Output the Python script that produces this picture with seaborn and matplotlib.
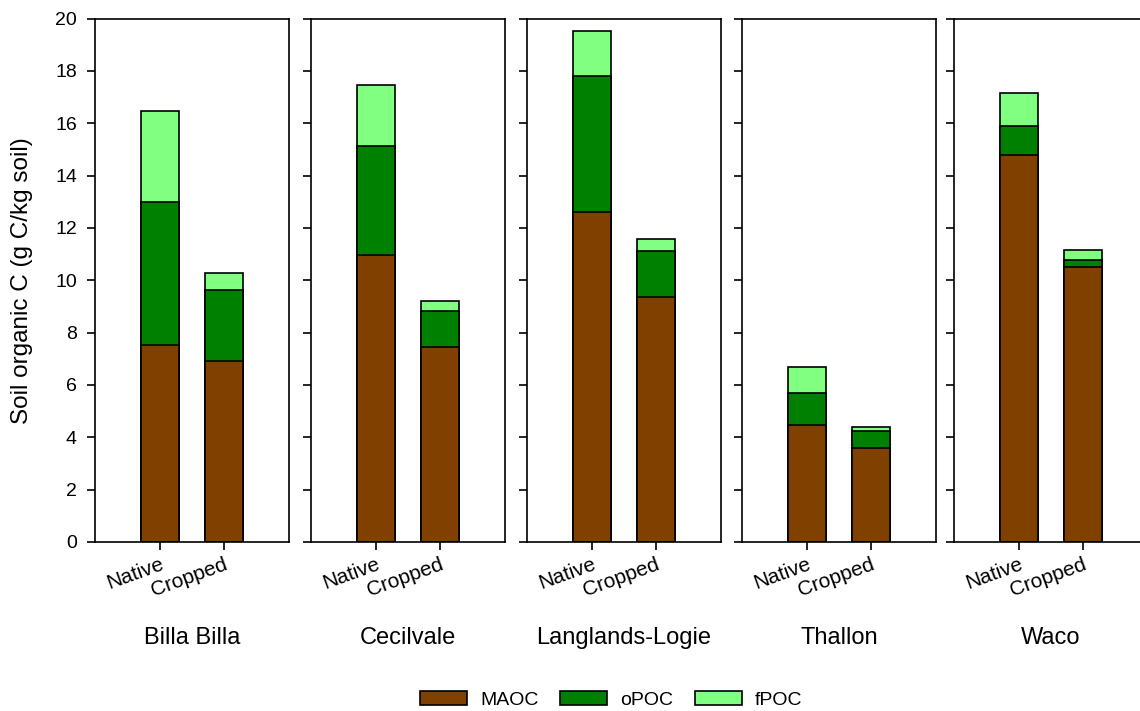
import numpy as np
import pandas as pd
import matplotlib
matplotlib.use("Agg")
import matplotlib.pyplot as plt
import seaborn as sns
from matplotlib.patches import Patch

# ---- data ----
sites = ["Billa Billa", "Cecilvale", "Langlands-Logie", "Thallon", "Waco"]
treatments = ["Native", "Cropped"]
fractions = ["MAOC", "oPOC", "fPOC"]
# order: site1 Native, site1 Cropped, site2 Native, ...
maoc = [7.52, 6.91, 10.98, 7.46, 12.61, 9.36, 4.48, 3.60, 14.78, 10.51]
opoc = [5.47, 2.71, 4.16, 1.37, 5.19, 1.76, 1.23, 0.65, 1.10, 0.28]
fpoc = [3.47, 0.65, 2.31, 0.39, 1.73, 0.44, 0.97, 0.14, 1.27, 0.36]
yticks = [0, 2, 4, 6, 8, 10, 12, 14, 16, 18, 20]
ylabel = "Soil organic C (g C/kg soil)"
colors = {"MAOC": "#804000", "oPOC": "#008000", "fPOC": "#80FF80"}

rows = []
i = 0
for s in sites:
    for t in treatments:
        rows.append({"site": s, "treatment": t,
                     "MAOC": maoc[i], "oPOC": opoc[i], "fPOC": fpoc[i]})
        i += 1
df = pd.DataFrame(rows)
df["cum_MAOC"] = df["MAOC"]
df["cum_oPOC"] = df["MAOC"] + df["oPOC"]
df["cum_fPOC"] = df["MAOC"] + df["oPOC"] + df["fPOC"]

sns.set_style("ticks")
plt.rcParams["font.family"] = ["Liberation Sans", "DejaVu Sans"]
plt.rcParams["text.color"] = "black"
plt.rcParams["axes.labelcolor"] = "black"
plt.rcParams["xtick.color"] = "black"
plt.rcParams["ytick.color"] = "black"
plt.rcParams["axes.edgecolor"] = "black"

W, H = 1140, 711
fig = plt.figure(figsize=(W / 100, H / 100), dpi=100)

lefts = [95, 311, 527, 742, 954]
pw, bottom_px, top_px = 194, 542, 18.5
lw = 1.2

for k, s in enumerate(sites):
    ax = fig.add_axes([lefts[k] / W, (H - bottom_px) / H, pw / W, (bottom_px - top_px) / H])
    sub = df[df["site"] == s]
    for f in ["fPOC", "oPOC", "MAOC"]:
        sns.barplot(data=sub, x="treatment", y="cum_" + f, order=treatments,
                    color=colors[f], saturation=1, edgecolor="black", linewidth=lw,
                    width=0.6, errorbar=None, ax=ax)
    ax.set_xlim(-1.02, 2.02)
    ax.set_ylim(0, 20)
    ax.set_yticks(yticks)
    ax.set_xticks([0, 1])
    ax.set_xticklabels(treatments, rotation=20, ha="right", va="top",
                       rotation_mode="anchor", fontsize=15, color="black")
    ax.tick_params(axis="both", direction="out", length=6, width=lw, color="black",
                   labelcolor="black")
    ax.tick_params(axis="x", pad=3)
    ax.tick_params(axis="y", pad=7, labelsize=14)
    for sp in ax.spines.values():
        sp.set_visible(True)
        sp.set_linewidth(lw)
        sp.set_color("black")
    ax.set_xlabel(s, fontsize=17, color="black")
    ax.xaxis.set_label_coords(0.5, -0.162)
    if k == 0:
        ax.set_ylabel(ylabel, fontsize=17.5, color="black")
        ax.yaxis.set_label_coords(-0.32, 0.5)
    else:
        ax.set_ylabel("")
        ax.tick_params(axis="y", labelleft=False)
    ax.set_facecolor("white")

handles = [Patch(facecolor=colors[f], edgecolor="black", linewidth=lw) for f in fractions]
fig.legend(handles, fractions, loc="center", bbox_to_anchor=(0.5364, 0.016), ncol=3,
           frameon=False, fontsize=14, handlelength=2.4, handleheight=0.8,
           handletextpad=0.7, columnspacing=1.1, labelcolor="black")

fig.savefig("out.png", dpi=100, facecolor="white")
